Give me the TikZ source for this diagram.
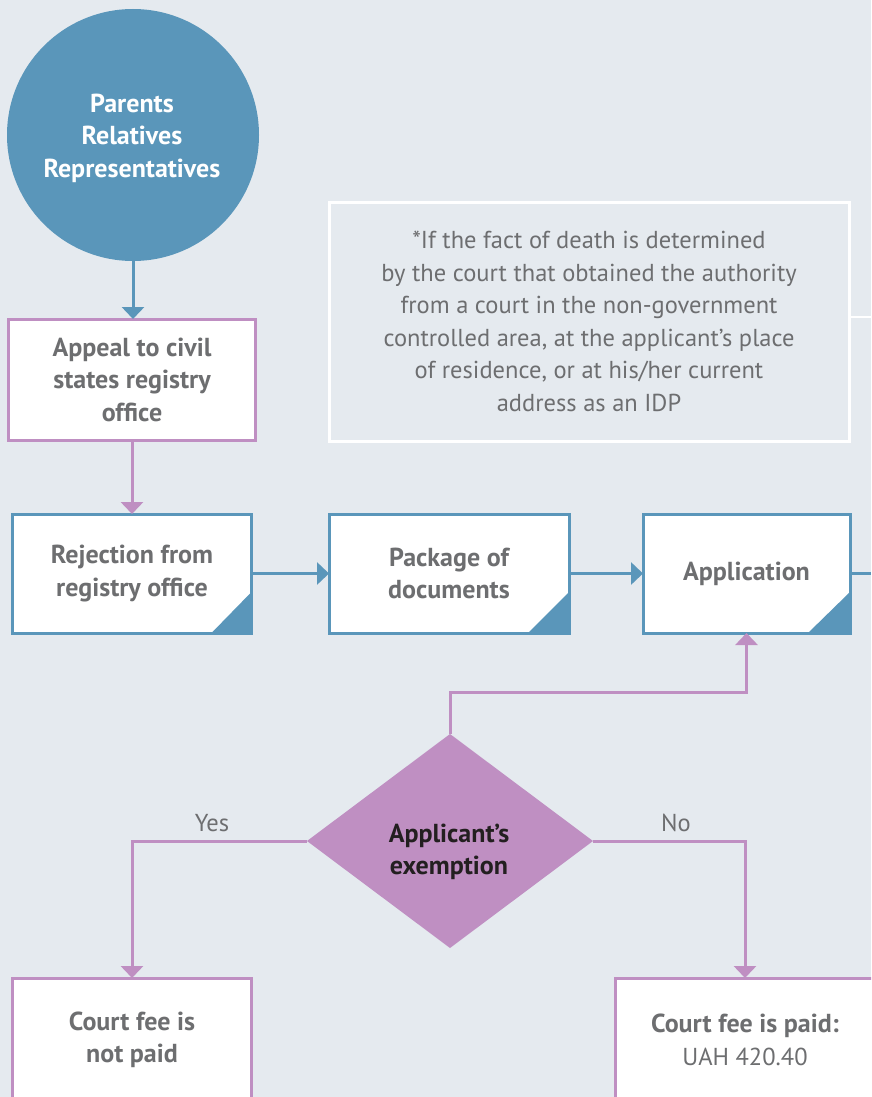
\documentclass[tikz,border=0pt]{standalone}
\usepackage{fontspec}
\setmainfont{PT Sans}
\usetikzlibrary{arrows.meta,shapes.geometric}
\definecolor{pagebg}{HTML}{E5EAEF}
\definecolor{flowblue}{HTML}{5A96BA}
\definecolor{flowpurple}{HTML}{BF8FC2}
\definecolor{textgray}{HTML}{6D6E70}
\definecolor{textdark}{HTML}{231F20}
\newcommand\bodyfont{\fontsize{24.5}{32.5}\selectfont}
\newcommand\headfont{\fontsize{26}{32.5}\selectfont\bfseries}
\begin{document}
\begin{tikzpicture}[x=1pt,y=-1pt,
  every node/.style={align=center, inner sep=0pt, outer sep=0pt},
  plain/.style={font=\bodyfont, text=textgray},
  strong/.style={font=\headfont, text=textgray},
  bluebox/.style={strong, draw=flowblue, line width=3pt, fill=white,
    minimum height=119pt},
  purplebox/.style={strong, draw=flowpurple, line width=3pt, fill=white,
    minimum height=121pt},
  fold/.style={fill=flowblue},
  bluearrow/.style={draw=flowblue, line width=3pt,
    -{Triangle[width=22pt,length=12pt]}},
  purplearrow/.style={draw=flowpurple, line width=3pt,
    -{Triangle[width=22pt,length=12pt]}},
]
% canvas
\useasboundingbox (0,0) rectangle (871,1097);
\clip (0,0) rectangle (871,1097);
\fill[pagebg] (0,0) rectangle (871,1097);

% starting actors
\node[circle, fill=flowblue, minimum size=252pt] (src) at (133,135) {};
\node[font=\headfont, text=white] (srctext) at (132,138)
  {Parents\\Relatives\\Representatives};

% first appeal
\node[purplebox, minimum width=247pt] (appeal) at (132,379.5)
  {Appeal to civil\\states registry\\office};

% main row
\node[bluebox, minimum width=239pt] (reject) at (132,573.5)
  {Rejection from\\registry office};
\node[bluebox, minimum width=240pt] (pack) at (449,573.5)
  {Package of\\documents};
\node[bluebox, minimum width=207pt] (app) at (746.5,573.5)
  {Application};
\foreach \n/\w in {reject/40,pack/41,app/42}{
  \fill[fold] (\n.south east) -- ++(-\w,0) -- ++(\w,-41) -- cycle;
}

% footnote box
\node[plain, draw=white, line width=3pt, fill=pagebg,
  minimum width=520pt, minimum height=239pt] (note) at (589,321.5)
  {*If the fact of death is determined\\
   by the court that obtained the authority\\
   from a court in the non-government\\
   controlled area, at the applicant's place\\
   of residence, or at his/her current\\
   address as an IDP};
\coordinate (noteout) at (871,317);
\draw[white, line width=2pt] (note.east |- noteout) -- (noteout);

% decision
\node[diamond, fill=flowpurple, aspect=1.336, minimum width=286pt,
  minimum height=214pt] (exempt) at (450,841) {};
\node[font=\headfont, text=textdark] (exempttext) at (449,852)
  {Applicant's\\exemption};

% outcomes
\node[purplebox, minimum width=239pt, minimum height=124pt] (nofee) at (132,1040)
  {Court fee is\\not paid};
\node[purplebox, minimum width=260pt, minimum height=124pt] (fee) at (745,1040)
  {Court fee is paid:\\\bodyfont\mdseries UAH 420.40};

% connectors
\draw[bluearrow] (src.south) -- (src.south |- appeal.north);
\draw[purplearrow] (appeal.south) -- (reject.north);
\draw[bluearrow] (reject.east) -- (pack.west);
\draw[bluearrow] (pack.east) -- (app.west);
\coordinate (appout) at (871,573.5);
\draw[flowblue, line width=3pt] (app.east) -- (appout);
\draw[purplearrow] (exempt.north) -- ++(0,-42) -| (app.south);
\draw[purplearrow] (exempt.west) -| (nofee.north);
\draw[purplearrow] (exempt.east) -| (fee.north);

% branch labels
\node[plain] (yes) at (212,823) {Yes};
\node[plain] (no) at (676,823) {No};
\end{tikzpicture}
\end{document}
